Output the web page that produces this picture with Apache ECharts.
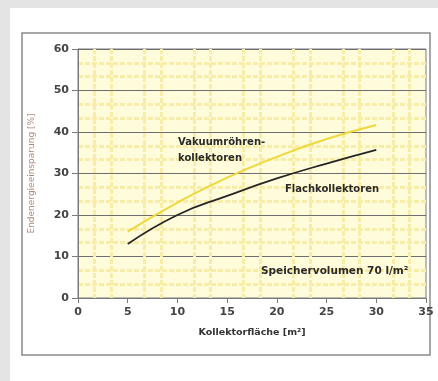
<!DOCTYPE html>
<html>
<head>
<meta charset="utf-8">
<script src="https://cdn.jsdelivr.net/npm/echarts@6/dist/echarts.min.js"></script>
<style>
  html, body { margin: 0; padding: 0; background: #e4e4e4; }
  #chart { width: 438px; height: 381px; }
</style>
</head>
<body>
<div id="chart"></div>
<script>
// collector area [m²]
const areas = [5, 10, 15, 20, 25, 30];
// end energy savings [%]
const vakuum = [16, 23, 29, 34, 38.3, 41.7];
const flach = [13, 20, 24.6, 28.8, 32.4, 35.7];
const xTicks = [0, 5, 10, 15, 20, 25, 30, 35];
const yTicks = [0, 10, 20, 30, 40, 50, 60];

const chart = echarts.init(document.getElementById('chart'));

const font = 'DejaVu Sans';
const minorLine = { show: true, lineStyle: { color: '#f8eda8', width: 3, type: [5, 2] } };

chart.setOption({
  animation: false,
  backgroundColor: '#e4e4e4',
  graphic: [
    // white sheet + framed box
    { type: 'rect', z: -10, shape: { x: 10, y: 8, width: 428, height: 373 }, style: { fill: '#fff' } },
    { type: 'rect', z: -9, shape: { x: 22, y: 33, width: 408, height: 322 },
      style: { fill: '#fff', stroke: '#8a8a8a', lineWidth: 1.5 } },
    { type: 'text', z: 10, left: 178, top: 134,
      style: { text: 'Vakuumröhren-\nkollektoren', font: 'bold 10px ' + font, fill: '#2a2a2a', lineHeight: 16 } },
    { type: 'text', z: 10, left: 285, top: 184,
      style: { text: 'Flachkollektoren', font: 'bold 10px ' + font, fill: '#2a2a2a' } },
    { type: 'text', z: 10, left: 261, top: 266,
      style: { text: 'Speichervolumen 70 l/m²', font: 'bold 10.5px ' + font, fill: '#2a2a2a' } }
  ],
  grid: {
    left: 78, right: 12, top: 49, bottom: 83,
    show: true, backgroundColor: '#fffcdc', borderColor: '#7a7a7a', borderWidth: 1
  },
  xAxis: {
    type: 'value', min: 0, max: 35, interval: 5,
    name: 'Kollektorfläche [m²]',
    nameLocation: 'middle', nameGap: 30,
    nameTextStyle: { fontFamily: font, fontWeight: 'bold', fontSize: 9.5, color: '#333' },
    axisLine: { lineStyle: { color: '#7a7a7a', width: 1 } },
    axisTick: { show: true, length: 5, lineStyle: { color: '#7a7a7a' } },
    axisLabel: {
      fontFamily: font, fontWeight: 'bold', fontSize: 11, color: '#444', margin: 9,
      customValues: xTicks
    },
    splitLine: { show: false },
    minorTick: { show: false, splitNumber: 3 },
    minorSplitLine: minorLine
  },
  yAxis: {
    type: 'value', min: 0, max: 60, interval: 10,
    name: 'Endenergieeinsparung [%]',
    nameLocation: 'middle', nameGap: 42,
    nameTextStyle: { fontFamily: font, fontSize: 9, color: '#b08a7c' },
    axisLine: { show: true, lineStyle: { color: '#7a7a7a', width: 1 } },
    axisTick: { show: true, length: 6, lineStyle: { color: '#7a7a7a' } },
    axisLabel: {
      fontFamily: font, fontWeight: 'bold', fontSize: 11, color: '#444', margin: 9,
      customValues: yTicks
    },
    splitLine: { show: true, lineStyle: { color: '#6e6e6e', width: 1 } },
    minorTick: { show: false, splitNumber: 3 },
    minorSplitLine: minorLine
  },
  series: [
    {
      name: 'Vakuumröhrenkollektoren',
      type: 'line',
      data: areas.map((x, i) => [x, vakuum[i]]),
      smooth: true,
      symbol: 'none',
      lineStyle: { color: '#eed83c', width: 2 },
      z: 3
    },
    {
      name: 'Flachkollektoren',
      type: 'line',
      data: areas.map((x, i) => [x, flach[i]]),
      smooth: true,
      symbol: 'none',
      lineStyle: { color: '#262626', width: 1.8 },
      z: 4
    }
  ]
});
</script>
</body>
</html>
